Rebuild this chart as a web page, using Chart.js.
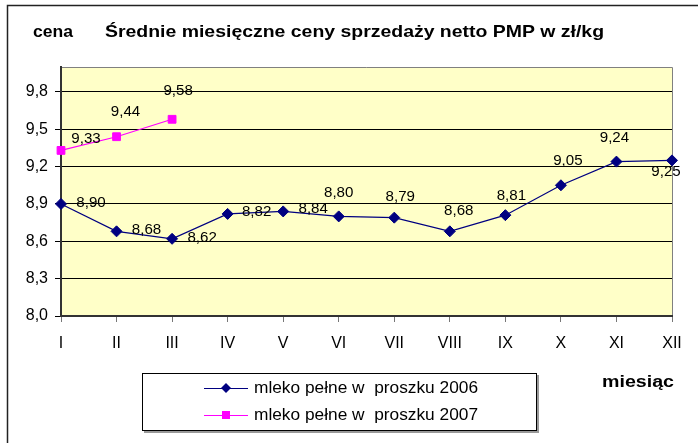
<!DOCTYPE html>
<html>
<head>
<meta charset="utf-8">
<script src="https://cdn.jsdelivr.net/npm/chart.js@4.4.0/dist/chart.umd.min.js"></script>
<style>
  body { margin: 0; background: #fff; }
  #wrap { width: 698px; height: 443px; }
</style>
</head>
<body>
<div id="wrap"><canvas id="priceChart"></canvas></div>
<script>
// dane
const months = ['I', 'II', 'III', 'IV', 'V', 'VI', 'VII', 'VIII', 'IX', 'X', 'XI', 'XII'];
const milk2006 = [8.90, 8.68, 8.62, 8.82, 8.84, 8.80, 8.79, 8.68, 8.81, 9.05, 9.24, 9.25];
const milk2007 = [9.33, 9.44, 9.58, null, null, null, null, null, null, null, null, null];
const yTicks = [8.0, 8.3, 8.6, 8.9, 9.2, 9.5, 9.8];
const seriesNames = ['mleko pełne w  proszku 2006', 'mleko pełne w  proszku 2007'];

// label offsets from each point (style only)
const labelOffsets = [
    [[30, -1], [30, -1], [30, -1], [29, -2], [30, -2], [0, -23], [6, -21], [9, -20], [6, -19], [7, -24], [-2, -23], [-6, 12]],
    [[25, -11], [9, -25], [6, -28]]
];

const FONT = '"Liberation Sans", Arial, sans-serif';

// text drawn with a horizontal stretch (fixed width, or factor)
function fitText(ctx, text, x, y, font, width, align, factor) {
    ctx.save();
    ctx.font = font;
    const w = ctx.measureText(text).width;
    const sx = width ? width / w : (factor || 1);
    ctx.translate(x, y);
    ctx.scale(sx, 1);
    ctx.textAlign = align || 'left';
    ctx.textBaseline = 'middle';
    ctx.fillText(text, 0, 0);
    ctx.restore();
}

const frame = {
    id: 'frame',
    beforeDraw(chart) {
        const { ctx, chartArea: a } = chart;
        ctx.save();
        ctx.fillStyle = '#FFFFC8';
        ctx.fillRect(a.left, a.top, a.right - a.left, a.bottom - a.top);
        ctx.strokeStyle = '#808080';
        ctx.lineWidth = 1;
        ctx.beginPath();
        ctx.moveTo(a.left, a.top + 0.5);
        ctx.lineTo(a.right + 0.5, a.top + 0.5);
        ctx.lineTo(a.right + 0.5, a.bottom);
        ctx.stroke();
        // outer border
        ctx.strokeStyle = '#222';
        ctx.lineWidth = 1.5;
        ctx.beginPath();
        ctx.moveTo(7.5, 443);
        ctx.lineTo(7.5, 5.5);
        ctx.lineTo(698, 5.5);
        ctx.stroke();
        ctx.restore();
    },
    afterDraw(chart) {
        const ctx = chart.ctx;
        ctx.fillStyle = '#000';
        fitText(ctx, 'cena', 33, 32, 'bold 17px ' + FONT, 40);
        fitText(ctx, 'Średnie miesięczne ceny sprzedaży netto PMP w zł/kg', 105, 32, 'bold 17px ' + FONT, 499);
        fitText(ctx, 'miesiąc', 602, 382, 'bold 17px ' + FONT, 72);

        // data labels
        chart.data.datasets.forEach((ds, i) => {
            const meta = chart.getDatasetMeta(i);
            meta.data.forEach((pt, j) => {
                const v = ds.data[j];
                if (v === null || v === undefined) return;
                const off = labelOffsets[i][j];
                fitText(ctx, v.toFixed(2).replace('.', ','), pt.x + off[0], pt.y + off[1], '14px ' + FONT, 0, 'center', 1.08);
            });
        });

        // legend
        ctx.save();
        ctx.fillStyle = '#999';
        ctx.fillRect(144, 431, 394, 2);
        ctx.fillRect(537, 375, 2, 58);
        ctx.fillStyle = '#fff';
        ctx.fillRect(142, 373, 395, 58);
        ctx.strokeStyle = '#000';
        ctx.lineWidth = 1;
        ctx.strokeRect(142.5, 373.5, 394, 57);
        const rows = [388, 415];
        chart.data.datasets.forEach((ds, i) => {
            const y = rows[i];
            ctx.strokeStyle = ds.borderColor;
            ctx.lineWidth = 1.2;
            ctx.beginPath();
            ctx.moveTo(204, y + 0.5);
            ctx.lineTo(248, y + 0.5);
            ctx.stroke();
            ctx.fillStyle = ds.borderColor;
            ctx.beginPath();
            if (i === 0) {
                ctx.moveTo(226, y - 5); ctx.lineTo(231, y); ctx.lineTo(226, y + 5); ctx.lineTo(221, y);
            } else {
                ctx.rect(222, y - 4, 8, 8);
            }
            ctx.fill();
            ctx.fillStyle = '#000';
            fitText(ctx, seriesNames[i], 254, y + 1, '16px ' + FONT, 224);
        });
        ctx.restore();
    }
};

const chartCtx = document.getElementById('priceChart').getContext('2d');
new Chart(chartCtx, {
    type: 'line',
    data: {
        labels: months,
        datasets: [
            {
                label: seriesNames[0],
                data: milk2006,
                borderColor: '#000080',
                backgroundColor: '#000080',
                borderWidth: 1.2,
                pointStyle: 'rectRot',
                pointRadius: 5.5,
                pointBorderWidth: 1,
                tension: 0
            },
            {
                label: seriesNames[1],
                data: milk2007,
                borderColor: '#FF00FF',
                backgroundColor: '#FF00FF',
                borderWidth: 1.2,
                pointStyle: 'rect',
                pointRadius: 5.5,
                pointBorderWidth: 1,
                spanGaps: false,
                tension: 0
            }
        ]
    },
    options: {
        responsive: true,
        maintainAspectRatio: false,
        animation: false,
        devicePixelRatio: 1,
        layout: {
            padding: { top: 67, right: 26, left: 0, bottom: 0 }
        },
        plugins: {
            legend: { display: false },
            title: { display: false },
            tooltip: { enabled: false }
        },
        scales: {
            x: {
                offset: false,
                afterFit: function(scale) { scale.height = 127; },
                grid: {
                    drawOnChartArea: false,
                    drawTicks: true,
                    tickLength: 6,
                    color: '#777'
                },
                border: { display: true, color: '#333', width: 2 },
                ticks: {
                    color: '#000',
                    padding: 12,
                    maxRotation: 0,
                    autoSkip: false,
                    font: { family: FONT, size: 16 }
                }
            },
            y: {
                min: 8,
                max: 10,
                afterFit: function(scale) { scale.width = 61; },
                afterBuildTicks: function(scale) {
                    scale.ticks = yTicks.map(v => ({ value: v }));
                },
                grid: {
                    color: '#000',
                    lineWidth: 1,
                    tickLength: 6
                },
                border: { display: true, color: '#333', width: 2 },
                ticks: {
                    color: '#000',
                    padding: 7,
                    font: { family: FONT, size: 16 },
                    callback: function(value) {
                        return value.toFixed(1).replace('.', ',');
                    }
                }
            }
        }
    },
    plugins: [frame]
});
</script>
</body>
</html>
